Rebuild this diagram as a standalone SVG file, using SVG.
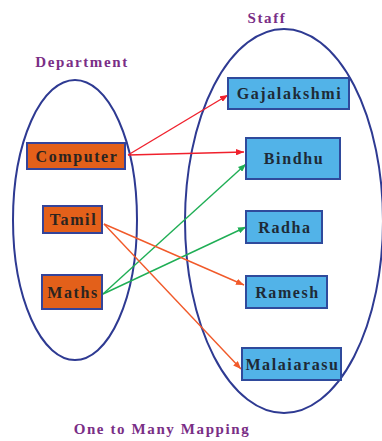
<svg xmlns="http://www.w3.org/2000/svg" width="382" height="441" viewBox="0 0 382 441">
  <style>
    .set { fill: none; stroke: #2e3a92; stroke-width: 2; }
    .title { font-family: "Liberation Serif", "DejaVu Serif", serif; font-weight: bold; font-size: 15px; fill: #7a2e86; letter-spacing: 1.6px; }
    .dept rect { fill: #e3601a; stroke: #34449a; stroke-width: 2; }
    .staff rect { fill: #52b3e8; stroke: #2f4a9c; stroke-width: 2; }
    .label { font-family: "Liberation Serif", "DejaVu Serif", serif; font-weight: bold; font-size: 16px; fill: #2a2420; letter-spacing: 1.6px; text-anchor: middle; }
    .staff .label { fill: #1e2a36; }
    .red { stroke: #f0202c; stroke-width: 1.4; fill: none; marker-end: url(#ahRed); }
    .green { stroke: #1fae55; stroke-width: 1.4; fill: none; marker-end: url(#ahGreen); }
    .orange { stroke: #f15a2a; stroke-width: 1.4; fill: none; marker-end: url(#ahOrange); }
  </style>
  <defs>
    <marker id="ahRed" viewBox="0 0 10 8" refX="10" refY="4" markerWidth="8" markerHeight="6.4" markerUnits="userSpaceOnUse" orient="auto">
      <path d="M0,0 L10,4 L0,8 z" fill="#f0202c"/>
    </marker>
    <marker id="ahGreen" viewBox="0 0 10 8" refX="10" refY="4" markerWidth="8" markerHeight="6.4" markerUnits="userSpaceOnUse" orient="auto">
      <path d="M0,0 L10,4 L0,8 z" fill="#1fae55"/>
    </marker>
    <marker id="ahOrange" viewBox="0 0 10 8" refX="10" refY="4" markerWidth="8" markerHeight="6.4" markerUnits="userSpaceOnUse" orient="auto">
      <path d="M0,0 L10,4 L0,8 z" fill="#f15a2a"/>
    </marker>
  </defs>
  <rect width="382" height="441" fill="#ffffff"/>

  <!-- the two sets -->
  <ellipse class="set" cx="75" cy="220" rx="62" ry="140"/>
  <ellipse class="set" cx="284" cy="221" rx="99" ry="192"/>

  <text class="title" x="82" y="67" text-anchor="middle">Department</text>
  <text class="title" x="267" y="23" text-anchor="middle">Staff</text>
  <text class="title" x="162" y="434" text-anchor="middle">One to Many Mapping</text>

  <!-- connectors -->
  <g id="connectors">
    <line class="red" x1="128" y1="155" x2="228" y2="95"/>
    <line class="red" x1="128" y1="155" x2="244" y2="152"/>
    <line class="green" x1="103" y1="294" x2="246" y2="164"/>
    <line class="green" x1="103" y1="294" x2="246" y2="227"/>
    <line class="orange" x1="104" y1="224" x2="244" y2="285"/>
    <line class="orange" x1="104" y1="224" x2="241" y2="369"/>
  </g>

  <!-- department nodes -->
  <g id="computer" class="dept">
    <rect x="27" y="143" width="98" height="26"/>
    <text class="label" x="77" y="161.5">Computer</text>
  </g>
  <g id="tamil" class="dept">
    <rect x="43" y="206" width="59" height="27"/>
    <text class="label" x="73.5" y="225">Tamil</text>
  </g>
  <g id="maths" class="dept">
    <rect x="42" y="275" width="60" height="34"/>
    <text class="label" x="73" y="297.5">Maths</text>
  </g>

  <!-- staff nodes -->
  <g id="gajalakshmi" class="staff">
    <rect x="228" y="78" width="121" height="31"/>
    <text class="label" x="289.5" y="98.5">Gajalakshmi</text>
  </g>
  <g id="bindhu" class="staff">
    <rect x="246" y="138" width="94" height="41"/>
    <text class="label" x="294" y="163.5">Bindhu</text>
  </g>
  <g id="radha" class="staff">
    <rect x="246" y="211" width="76" height="32"/>
    <text class="label" x="285" y="232.5">Radha</text>
  </g>
  <g id="ramesh" class="staff">
    <rect x="246" y="276" width="81" height="32"/>
    <text class="label" x="287.5" y="297.5">Ramesh</text>
  </g>
  <g id="malaiarasu" class="staff">
    <rect x="242" y="348" width="99" height="32"/>
    <text class="label" x="292.5" y="369.5">Malaiarasu</text>
  </g>
</svg>
